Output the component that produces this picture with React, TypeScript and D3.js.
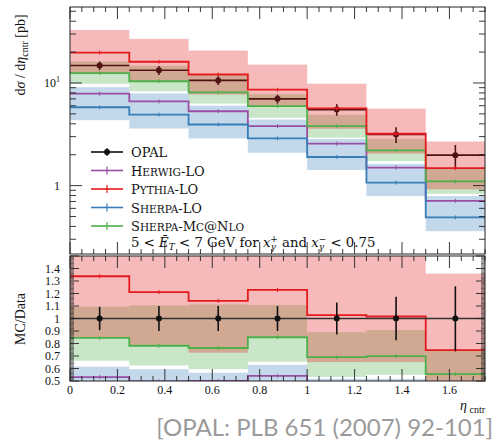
import React from 'react';
import * as d3 from 'd3';

// bins in eta_cntr
const binEdges = [0, 0.25, 0.5, 0.75, 1.0, 1.25, 1.5, 1.75];

// cross sections [pb]
const opal = [14.8, 13.3, 10.6, 7.0, 5.5, 3.15, 1.98];
const opalErr = [1.38, 1.33, 1.06, 0.70, 0.70, 0.55, 0.51];
const herwig = [7.87, 6.62, 5.3, 3.79, 2.56, 1.5, 0.71];
const pythia = [19.8, 16.1, 12.1, 8.6, 5.65, 3.2, 1.48];
const pythiaLo = [12.5, 10.5, 7.7, 5.95, 3.58, 2.05, 0.92];
const pythiaHi = [32.9, 26.9, 20.7, 15.1, 9.84, 5.62, 2.69];
const sherpa = [5.8, 4.92, 3.94, 2.88, 1.9, 1.07, 0.49];
const sherpaLo = [4.34, 3.6, 2.88, 2.09, 1.42, 0.79, 0.36];
const sherpaHi = [9.1, 7.9, 6.0, 4.4, 2.85, 1.63, 0.79];
const mcnlo = [12.5, 10.4, 8.1, 5.95, 3.8, 2.2, 1.1];
const mcnloLo = [9.8, 8.3, 6.3, 4.58, 2.93, 1.73, 0.83];
const mcnloHi = [16.2, 14.7, 11.8, 7.76, 4.9, 2.86, 1.48];

const RED = '#e41a1c';
const BLUE = '#377eb8';
const GREEN = '#4daf4a';
const PURPLE = '#984ea3';
const SERIF = '"Liberation Serif", "DejaVu Serif", serif';
const WIDE = '"DejaVu Serif", serif';

const L = 70, R = 485;
const mainTop = 7, mainBot = 254;
const ratTop = 256, ratBot = 381;

const x = d3.scaleLinear().domain([0, 1.75]).range([L, R]);
const yMain = d3.scaleLog().domain([0.2155, 55]).range([mainBot, mainTop]);
const yRat = d3.scaleLinear().domain([0.5, 1.5]).range([ratBot, ratTop]);

const bins = opal.map((_, i) => ({ i, lo: binEdges[i], hi: binEdges[i + 1], mid: (binEdges[i] + binEdges[i + 1]) / 2 }));

function stepPath(vals: number[], y: (v: number) => number) {
  const pts: [number, number][] = vals.map((v, i) => [binEdges[i], v]);
  pts.push([binEdges[vals.length], vals[vals.length - 1]]);
  return d3.line<[number, number]>()
    .x(d => x(d[0]))
    .y(d => y(d[1]))
    .curve(d3.curveStepAfter)(pts) as string;
}

const ratio = (vals: number[]) => vals.map((v, i) => v / opal[i]);

function Bands({ lo, hi, color, y }: { lo: number[]; hi: number[]; color: string; y: (v: number) => number }) {
  return (
    <g>
      {bins.map(b => (
        <rect key={b.i} x={x(b.lo)} width={x(b.hi) - x(b.lo)} y={y(hi[b.i])}
          height={y(lo[b.i]) - y(hi[b.i])} fill={color} fillOpacity={0.3} />
      ))}
    </g>
  );
}

function McLine({ vals, color, y }: { vals: number[]; color: string; y: (v: number) => number }) {
  return (
    <g>
      <path d={stepPath(vals, y)} fill="none" stroke={color} strokeWidth={1.8} />
      {bins.map(b => (
        <line key={b.i} x1={x(b.mid)} x2={x(b.mid)} y1={y(vals[b.i]) - 2} y2={y(vals[b.i]) + 2}
          stroke={color} strokeWidth={1} />
      ))}
    </g>
  );
}

function XTicks({ top, bot, labels }: { top: number; bot: number; labels: boolean }) {
  const ticks = x.ticks(35);
  return (
    <g stroke="#222" strokeWidth={0.9}>
      {ticks.map(t => {
        const major = Math.abs(t / 0.2 - Math.round(t / 0.2)) < 1e-6;
        const len = major ? 12 : 5;
        return (
          <g key={t}>
            <line x1={x(t)} x2={x(t)} y1={top} y2={top + len} />
            <line x1={x(t)} x2={x(t)} y1={bot} y2={bot - len} />
            {labels && major && (
              <text x={x(t)} y={bot + 13} stroke="none" fill="#111" fontSize={12}
                textAnchor="middle" fontFamily={SERIF}>{String(+t.toFixed(2))}</text>
            )}
          </g>
        );
      })}
    </g>
  );
}

// small caps part of a legend label
function Small({ t }: { t: string }) {
  return <tspan fontSize={10.5}>{t}</tspan>;
}

export default function App() {
  const logTicks = yMain.ticks();
  const ratTicks = yRat.ticks(100);

  const legend = [
    { key: 'opal', color: '#111', label: <tspan>OPAL</tspan> },
    { key: 'herwig', color: PURPLE, label: <>H<Small t="ERWIG" />-LO</> },
    { key: 'pythia', color: RED, label: <>P<Small t="YTHIA" />-LO</> },
    { key: 'sherpa', color: BLUE, label: <>S<Small t="HERPA" />-LO</> },
    { key: 'mcnlo', color: GREEN, label: <>S<Small t="HERPA" />-M<Small t="C" />@N<Small t="LO" /></> },
  ];

  return (
    <svg width={495} height={440} style={{ display: 'block', position: 'absolute', left: 0, top: 0 }}
      fontFamily={SERIF}>
      <defs>
        <clipPath id="clipMain"><rect x={L} y={mainTop} width={R - L} height={mainBot - mainTop} /></clipPath>
        <clipPath id="clipRat"><rect x={L} y={ratTop} width={R - L} height={ratBot - ratTop} /></clipPath>
      </defs>
      <rect width={495} height={440} fill="#fff" />

      {/* main panel */}
      <g clipPath="url(#clipMain)">
        <Bands lo={mcnloLo} hi={mcnloHi} color={GREEN} y={yMain} />
        <Bands lo={sherpaLo} hi={sherpaHi} color={BLUE} y={yMain} />
        <g stroke="#111" strokeWidth={1.6}>
          {bins.map(b => (
            <g key={b.i}>
              <line x1={x(b.lo)} x2={x(b.hi)} y1={yMain(opal[b.i])} y2={yMain(opal[b.i])} />
              <line x1={x(b.mid)} x2={x(b.mid)} y1={yMain(opal[b.i] - opalErr[b.i])} y2={yMain(opal[b.i] + opalErr[b.i])} />
              <circle cx={x(b.mid)} cy={yMain(opal[b.i])} r={3} fill="#111" stroke="none" />
            </g>
          ))}
        </g>
        <Bands lo={pythiaLo} hi={pythiaHi} color={RED} y={yMain} />
        <McLine vals={herwig} color={PURPLE} y={yMain} />
        <McLine vals={sherpa} color={BLUE} y={yMain} />
        <McLine vals={mcnlo} color={GREEN} y={yMain} />
        <McLine vals={pythia} color={RED} y={yMain} />
      </g>

      {/* legend */}
      {legend.map((e, k) => {
        const ly = 152 + k * 18.5;
        return (
          <g key={e.key}>
            <line x1={91} x2={123} y1={ly} y2={ly} stroke={e.color} strokeWidth={1.6} />
            <line x1={107} x2={107} y1={ly - 4} y2={ly + 4} stroke={e.color} strokeWidth={1.2} />
            {e.key === 'opal' && <circle cx={107} cy={ly} r={3} fill="#111" />}
            <text x={131} y={ly + 5} fontSize={13} fill="#111" fontFamily={WIDE}>{e.label}</text>
          </g>
        );
      })}
      <text x={131} y={247} fontSize={13.3} fill="#111" fontFamily={WIDE}>
        5 &lt; <tspan fontStyle="italic">Ē</tspan>
        <tspan fontStyle="italic" fontSize={9} dy={3}>T</tspan>
        <tspan dy={-3}> &lt; 7 GeV for </tspan>
        <tspan fontStyle="italic">x</tspan>
        <tspan fontSize={9} fontStyle="italic" dy={3}>γ</tspan>
        <tspan fontSize={9} dx={-5.5} dy={-8.5}>+</tspan>
        <tspan dy={5.5}> and </tspan>
        <tspan fontStyle="italic">x</tspan>
        <tspan fontSize={9} fontStyle="italic" dy={3}>γ</tspan>
        <tspan fontSize={9} dx={-5.5} dy={-8.5}>−</tspan>
        <tspan dy={5.5}> &lt; 0.75</tspan>
      </text>

      {/* main axes */}
      <rect x={L} y={mainTop} width={R - L} height={mainBot - mainTop} fill="none" stroke="#222" strokeWidth={1} />
      <XTicks top={mainTop} bot={mainBot} labels={false} />
      <g stroke="#222" strokeWidth={0.9}>
        {logTicks.map(t => {
          const major = Math.abs(Math.log10(t) - Math.round(Math.log10(t))) < 1e-9;
          const len = major ? 12 : 6;
          return (
            <g key={t}>
              <line x1={L} x2={L + len} y1={yMain(t)} y2={yMain(t)} />
              <line x1={R} x2={R - len} y1={yMain(t)} y2={yMain(t)} />
            </g>
          );
        })}
      </g>
      <text x={60} y={yMain(10) + 4} textAnchor="end" fontSize={12} fill="#111">
        10<tspan fontSize={8} dy={-5}>1</tspan>
      </text>
      <text x={60} y={yMain(1) + 4} textAnchor="end" fontSize={12} fill="#111">1</text>
      <text transform={`translate(25,55) rotate(-90)`} textAnchor="middle" fontSize={14} fill="#111">
        d<tspan fontStyle="italic">σ</tspan> / d<tspan fontStyle="italic">η</tspan>
        <tspan fontSize={10} dy={3}>cntr</tspan>
        <tspan dy={-3}> [pb]</tspan>
      </text>

      {/* ratio panel */}
      <g clipPath="url(#clipRat)">
        <Bands lo={ratio(mcnloLo)} hi={ratio(mcnloHi)} color={GREEN} y={yRat} />
        <Bands lo={ratio(sherpaLo)} hi={ratio(sherpaHi)} color={BLUE} y={yRat} />
        <Bands lo={ratio(pythiaLo)} hi={ratio(pythiaHi)} color={RED} y={yRat} />
        <McLine vals={ratio(herwig)} color={PURPLE} y={yRat} />
        <McLine vals={ratio(sherpa)} color={BLUE} y={yRat} />
        <McLine vals={ratio(mcnlo)} color={GREEN} y={yRat} />
        <McLine vals={ratio(pythia)} color={RED} y={yRat} />
        <g stroke="#111" strokeWidth={1.6}>
          <path d={stepPath(ratio(opal), yRat)} fill="none" stroke="#333" />
          {bins.map(b => (
            <g key={b.i}>
              <line x1={x(b.mid)} x2={x(b.mid)} y1={yRat(1 - opalErr[b.i] / opal[b.i])} y2={yRat(1 + opalErr[b.i] / opal[b.i])} />
              <circle cx={x(b.mid)} cy={yRat(1)} r={3} fill="#111" stroke="none" />
            </g>
          ))}
        </g>
      </g>
      <rect x={L} y={ratTop} width={R - L} height={ratBot - ratTop} fill="none" stroke="#222" strokeWidth={1} />
      <XTicks top={ratTop} bot={ratBot} labels={true} />
      <g stroke="#222" strokeWidth={0.6}>
        {ratTicks.map(t => {
          const major = Math.abs(t * 10 - Math.round(t * 10)) < 1e-6;
          const len = major ? 9 : 4;
          return (
            <g key={t}>
              <line x1={L} x2={L + len} y1={yRat(t)} y2={yRat(t)} strokeWidth={major ? 0.9 : 0.6} />
              <line x1={R} x2={R - len} y1={yRat(t)} y2={yRat(t)} strokeWidth={major ? 0.9 : 0.6} />
              {major && t < 1.45 && (
                <text x={60} y={yRat(t) + 4} textAnchor="end" fontSize={12} fill="#111" stroke="none">
                  {String(+t.toFixed(1))}
                </text>
              )}
            </g>
          );
        })}
      </g>
      <text transform={`translate(25,319) rotate(-90)`} textAnchor="middle" fontSize={14} fill="#111">MC/Data</text>
      <text x={R} y={410} textAnchor="end" fontSize={14} fill="#111">
        <tspan fontStyle="italic">η</tspan><tspan fontSize={10} dx={2.5} dy={3}>cntr</tspan>
      </text>

      <text x={493} y={436} textAnchor="end" fontSize={24} fill="#9a9a9a"
        fontFamily='Lato, "Open Sans", sans-serif'>[OPAL: PLB 651 (2007) 92-101]</text>
    </svg>
  );
}
